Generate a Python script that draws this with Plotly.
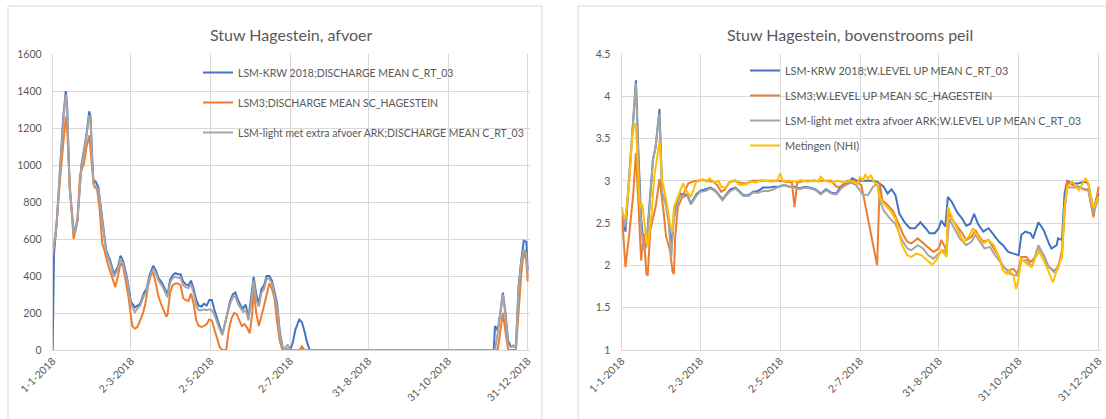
import pandas as pd
import plotly.graph_objects as go

# ---------------- data (day offsets from 1-1-2018) ----------------
START = "2018-01-01"

# Left chart: discharge (afvoer)
q_krw_days = [0,1,3,6,8,10,11,13,16,17,19,22,24,26,28,29,31,33,35,37,39,41,44,47,50,52,54,57,60,63,65,67,70,72,74,77,79,81,84,86,88,90,92,94,96,98,100,102,104,106,108,110,112,114,116,118,120,122,124,127,130,133,136,138,140,142,144,146,148,150,152,154,156,158,160,162,164,166,168,170,172,174,176,178,182,184,186,189,191,193,195,197,338,339,341,343,345,347,349,351,353,355,357,359,361,363,364]
q_krw = [0,520,680,1030,1250,1400,1330,880,650,640,710,1000,1080,1170,1290,1260,920,910,880,760,665,540,485,410,450,510,480,390,260,230,240,250,310,330,400,455,430,390,360,330,300,380,405,415,410,410,370,355,350,375,330,270,240,235,250,240,270,270,215,150,85,170,265,300,310,270,240,225,245,170,270,395,300,250,330,350,400,400,375,320,250,100,20,5,0,40,110,165,150,100,40,0,0,130,105,200,310,200,50,20,20,15,340,480,590,585,430]

q_lsm3_days = [0,3,6,8,10,11,13,16,17,19,21,24,26,28,30,32,34,36,38,40,42,44,46,48,50,52,54,56,58,60,61,63,65,67,69,71,73,75,77,79,81,83,85,87,88,90,92,94,96,98,100,102,104,106,108,110,112,114,116,118,120,122,124,126,128,130,133,135,137,139,141,143,145,147,149,151,153,154,156,158,160,162,164,166,168,170,172,174,176,189,191,193,341,343,345,347,349,355,357,359,361,363,364]
q_lsm3 = [510,690,950,1120,1260,1200,900,600,640,700,950,1010,1100,1160,1000,880,870,760,575,530,470,430,390,340,400,470,450,380,290,180,130,115,125,160,195,250,340,400,420,360,290,250,210,180,190,310,350,360,360,350,280,270,265,305,250,160,130,125,130,140,165,160,110,60,15,0,0,110,170,200,195,160,130,140,120,90,200,330,200,130,180,240,300,360,330,280,150,50,0,0,20,0,0,100,200,100,0,0,200,400,540,480,370]

q_light_days = [0,3,6,8,10,11,13,16,17,19,22,24,26,28,29,31,33,35,37,39,41,44,47,50,52,54,57,60,63,65,67,70,72,74,77,79,81,84,86,88,90,92,94,96,98,100,102,104,106,108,110,112,114,116,118,120,122,124,127,130,133,136,138,140,142,144,146,148,150,152,154,156,158,160,162,164,166,168,170,172,174,176,178,180,182,339,341,343,345,347,349,351,353,355,357,359,361,363,364]
q_light = [520,670,1010,1230,1380,1310,870,640,630,700,990,1070,1160,1270,1240,900,880,870,750,650,530,470,395,440,495,465,375,245,205,225,240,295,315,385,440,415,375,345,315,285,365,390,395,390,390,350,340,335,355,310,240,215,215,220,215,220,215,190,130,80,170,250,285,290,250,230,205,215,160,250,375,270,235,310,330,385,385,360,300,230,90,15,5,30,0,0,90,190,300,190,30,15,25,10,330,470,545,520,400]

# Right chart: upstream water level (bovenstrooms peil)
h_krw_days = [0,3,6,9,11,13,15,17,19,21,24,26,29,31,34,36,38,40,43,45,48,50,53,57,60,64,68,72,77,80,83,87,90,93,97,100,104,108,112,116,120,124,128,132,136,140,144,148,152,156,160,164,167,170,173,176,180,185,190,195,200,203,206,209,212,216,220,224,228,232,235,239,242,244,247,249,252,256,260,263,266,269,272,276,280,284,288,291,295,299,303,305,308,312,314,318,322,326,328,332,333,336,338,340,344,348,353,356,359,360,362,364]
h_krw = [2.69,2.40,3.05,3.72,4.19,3.30,2.55,2.22,2.25,2.65,3.25,3.40,3.85,2.85,2.73,2.55,2.20,2.60,2.78,2.85,2.83,2.84,2.73,2.84,2.88,2.90,2.92,2.88,2.78,2.84,2.90,2.92,2.87,2.83,2.83,2.87,2.88,2.92,2.92,2.93,2.93,2.95,2.93,2.93,2.91,2.93,2.92,2.90,2.85,2.90,2.86,2.85,2.93,2.96,2.98,3.03,3.00,3.00,3.00,2.99,2.93,2.85,2.90,2.83,2.61,2.51,2.44,2.44,2.51,2.44,2.38,2.38,2.44,2.53,2.46,2.81,2.75,2.63,2.55,2.47,2.49,2.61,2.49,2.40,2.44,2.36,2.28,2.24,2.16,2.14,2.12,2.36,2.40,2.38,2.32,2.51,2.42,2.26,2.20,2.24,2.32,2.30,2.85,3.00,2.97,2.97,2.99,2.97,2.75,2.62,2.78,2.85]

h_lsm3_days = [0,3,6,9,11,13,15,17,19,20,22,26,29,32,34,37,39,40,41,43,47,51,56,62,66,70,73,76,79,82,86,90,95,100,110,120,130,132,134,140,150,160,164,167,172,178,183,195,197,199,202,207,211,215,218,221,226,229,234,238,242,244,248,249,252,256,260,263,267,270,272,276,280,284,288,291,295,299,302,305,309,312,316,319,322,326,330,333,336,338,340,344,349,354,356,360,362,364]
h_lsm3 = [2.69,1.98,2.38,2.85,3.33,2.69,2.06,2.38,1.90,1.88,2.42,2.69,3.02,2.65,2.34,2.18,1.92,1.90,2.34,2.69,2.83,2.97,3.00,3.01,3.00,2.99,2.95,2.87,2.90,2.98,3.00,2.98,2.97,3.00,3.00,3.00,2.98,2.69,2.98,3.00,3.00,3.00,2.93,2.93,3.00,3.00,2.95,2.00,2.98,2.77,2.73,2.65,2.51,2.36,2.28,2.26,2.32,2.28,2.21,2.16,2.20,2.30,2.18,2.63,2.55,2.47,2.38,2.30,2.34,2.42,2.36,2.28,2.30,2.20,2.10,1.98,1.94,1.96,1.90,2.10,2.10,2.04,2.10,2.20,2.12,1.98,1.94,1.96,2.18,2.65,2.99,2.95,2.93,2.89,2.90,2.57,2.75,2.93]

h_light_days = [0,3,6,9,11,13,15,17,19,21,24,26,29,31,34,36,38,40,43,45,48,50,53,57,60,64,68,72,77,80,83,87,90,93,97,100,104,108,112,116,120,124,128,132,136,140,144,148,152,156,160,164,167,171,175,179,184,188,192,195,197,200,205,209,214,218,221,226,230,234,238,242,246,248,250,254,258,263,267,270,274,277,281,285,289,293,296,302,305,309,313,318,322,326,330,333,336,338,340,344,349,354,356,360,362,364]
h_light = [2.69,2.45,3.10,3.75,4.15,3.20,2.45,2.18,2.22,2.60,3.25,3.40,3.80,2.85,2.70,2.50,2.10,2.55,2.75,2.83,2.81,2.83,2.72,2.82,2.87,2.88,2.91,2.87,2.77,2.83,2.88,2.91,2.86,2.82,2.82,2.86,2.86,2.88,2.88,2.90,2.93,2.95,2.93,2.92,2.90,2.92,2.91,2.89,2.84,2.89,2.85,2.84,2.90,2.95,2.98,2.95,2.84,2.83,2.93,2.97,2.77,2.65,2.55,2.49,2.30,2.20,2.18,2.24,2.20,2.12,2.08,2.14,2.18,2.14,2.55,2.44,2.32,2.24,2.28,2.36,2.26,2.20,2.22,2.12,2.04,1.96,1.90,1.88,2.06,2.06,1.98,2.24,2.12,1.98,1.92,2.00,2.10,2.65,2.92,2.92,2.92,2.90,2.90,2.62,2.72,2.80]

h_obs_days = [0,3,6,8,10,11,13,14,16,18,20,23,25,29,31,34,37,39,40,43,47,49,53,57,60,62,65,67,71,74,76,80,83,87,90,95,99,103,106,110,115,119,121,123,128,133,137,142,147,150,152,155,161,165,170,175,180,182,184,186,188,190,193,195,197,200,205,209,214,218,221,225,229,233,237,240,244,248,249,253,257,261,265,268,272,276,280,284,288,291,294,296,299,301,303,305,309,313,318,322,326,329,333,336,338,340,344,349,354,356,360,362,364]
h_obs = [2.65,2.55,3.00,3.50,3.68,3.65,2.95,2.69,2.72,2.42,2.22,2.62,3.05,3.47,3.01,2.78,2.50,2.40,2.69,2.81,2.97,2.89,2.81,2.99,3.00,3.02,2.99,3.03,2.98,3.00,2.93,2.92,2.99,3.01,2.95,2.96,2.99,2.98,3.01,3.00,2.99,3.01,3.09,3.00,3.00,2.99,3.01,2.99,3.01,2.99,3.05,3.00,2.98,3.00,2.98,3.00,2.97,3.05,3.00,3.08,3.02,3.07,2.98,2.97,2.81,2.73,2.65,2.55,2.24,2.12,2.10,2.14,2.12,2.06,2.01,2.06,2.18,2.10,2.69,2.53,2.40,2.28,2.34,2.44,2.34,2.26,2.30,2.24,2.10,1.94,1.90,1.94,1.88,1.72,1.85,2.08,2.02,1.98,2.18,2.06,1.92,1.80,1.98,2.10,2.69,2.93,2.99,2.89,3.03,2.97,2.68,2.76,2.82]

tick_dates = ["2018-01-01", "2018-03-02", "2018-05-02", "2018-07-02", "2018-08-31", "2018-10-31", "2018-12-31"]
tick_labels = ["1-1-2018", "2-3-2018", "2-5-2018", "2-7-2018", "31-8-2018", "31-10-2018", "31-12-2018"]

q_ticks = [0, 200, 400, 600, 800, 1000, 1200, 1400, 1600]
h_ticks = [1, 1.5, 2, 2.5, 3, 3.5, 4, 4.5]

title_left = "Stuw Hagestein, afvoer"
title_right = "Stuw Hagestein, bovenstrooms peil"

names_left = ["LSM-KRW 2018;DISCHARGE MEAN C_RT_03",
              "LSM3;DISCHARGE MEAN SC_HAGESTEIN",
              "LSM-light met extra afvoer ARK;DISCHARGE MEAN C_RT_03"]
names_right = ["LSM-KRW 2018;W.LEVEL UP MEAN C_RT_03",
               "LSM3;W.LEVEL UP MEAN SC_HAGESTEIN",
               "LSM-light met extra afvoer ARK;W.LEVEL UP MEAN C_RT_03",
               "Metingen (NHI)"]

# ---------------- styling ----------------
BLUE, ORANGE, GRAY, YELLOW = "#4472C4", "#ED7D31", "#A5A5A5", "#FFC000"
TXT = "#595959"
GRID = "#d9d9d9"
FONT = "Lato, Open Sans, sans-serif"
W, H = 1106, 419


def to_dates(days):
    return pd.Timestamp(START) + pd.to_timedelta(days, unit="D")


fig = go.Figure()

left_series = [(q_krw_days, q_krw, BLUE), (q_lsm3_days, q_lsm3, ORANGE), (q_light_days, q_light, GRAY)]
for i, ((d, v, c), n) in enumerate(zip(left_series, names_left)):
    fig.add_trace(go.Scatter(x=to_dates(d), y=v, mode="lines", name=n,
                             line=dict(color=c, width=2), xaxis="x", yaxis="y",
                             legend="legend", legendgroup=f"L{i}"))

right_series = [(h_krw_days, h_krw, BLUE), (h_lsm3_days, h_lsm3, ORANGE),
                (h_light_days, h_light, GRAY), (h_obs_days, h_obs, YELLOW)]
for i, ((d, v, c), n) in enumerate(zip(right_series, names_right)):
    fig.add_trace(go.Scatter(x=to_dates(d), y=v, mode="lines", name=n,
                             line=dict(color=c, width=2), xaxis="x2", yaxis="y2",
                             legend="legend2", legendgroup=f"R{i}"))

x_range = ["2018-01-01", "2019-01-01 19:00"]
ytop, ybot = 54, 350
ydom = [1 - ybot / H, 1 - ytop / H]

xcommon = dict(type="date", range=x_range, tickmode="array", tickvals=tick_dates,
               ticktext=tick_labels, tickangle=-45, showgrid=True, gridcolor=GRID,
               gridwidth=1, showline=True, linecolor=GRID, linewidth=1, ticks="",
               automargin=False,
               tickfont=dict(family=FONT, size=10.5, color=TXT), zeroline=False)
ycommon = dict(showgrid=True, gridcolor=GRID, gridwidth=1, showline=True, linecolor=GRID,
               ticks="", ticklabelstandoff=8, zeroline=False, automargin=False,
               tickfont=dict(family=FONT, size=10.5, color=TXT))

fig.update_layout(
    width=W, height=H, autosize=False,
    margin=dict(l=0, r=0, t=0, b=0, pad=0),
    paper_bgcolor="white", plot_bgcolor="white",
    font=dict(family=FONT, color=TXT),
    xaxis=dict(domain=[52.7 / W, 530 / W], anchor="y", **xcommon),
    yaxis=dict(domain=ydom, anchor="x", range=[0, 1600], tickmode="array",
               tickvals=q_ticks, ticktext=[str(t) for t in q_ticks], **ycommon),
    xaxis2=dict(domain=[621.5 / W, 1101 / W], anchor="y2", **xcommon),
    yaxis2=dict(domain=ydom, anchor="x2", range=[1, 4.5], tickmode="array",
                tickvals=h_ticks, ticktext=[f"{t:g}" for t in h_ticks], **ycommon),
    legend=dict(x=198 / W, y=1 - 58 / H, xanchor="left", yanchor="top",
                bgcolor="rgba(0,0,0,0)", font=dict(family=FONT, size=10.5, color=TXT),
                tracegroupgap=11, itemclick=False),
    legend2=dict(x=745 / W, y=1 - 56 / H, xanchor="left", yanchor="top",
                 bgcolor="rgba(0,0,0,0)", font=dict(family=FONT, size=10.9, color=TXT),
                 tracegroupgap=6, itemclick=False),
    showlegend=True,
)

# chart-area frames
fig.add_shape(type="rect", xref="paper", yref="paper", x0=8 / W, x1=542 / W,
              y0=-0.05, y1=1 - 6 / H, line=dict(color=GRID, width=1), layer="below")
fig.add_shape(type="rect", xref="paper", yref="paper", x0=578 / W, x1=1.05,
              y0=-0.05, y1=1 - 6 / H, line=dict(color=GRID, width=1), layer="below")

# titles
fig.add_annotation(text=title_left, xref="paper", yref="paper", x=291 / W, y=1 - 34 / H,
                   xanchor="center", yanchor="middle",
                   showarrow=False, font=dict(family=FONT, size=16, color=TXT))
fig.add_annotation(text=title_right, xref="paper", yref="paper", x=850 / W, y=1 - 34 / H,
                   xanchor="center", yanchor="middle",
                   showarrow=False, font=dict(family=FONT, size=16, color=TXT))

fig.write_html("out.html", config={"displayModeBar": False},
               post_script="document.body.style.margin='0px';document.body.style.padding='0px';")
